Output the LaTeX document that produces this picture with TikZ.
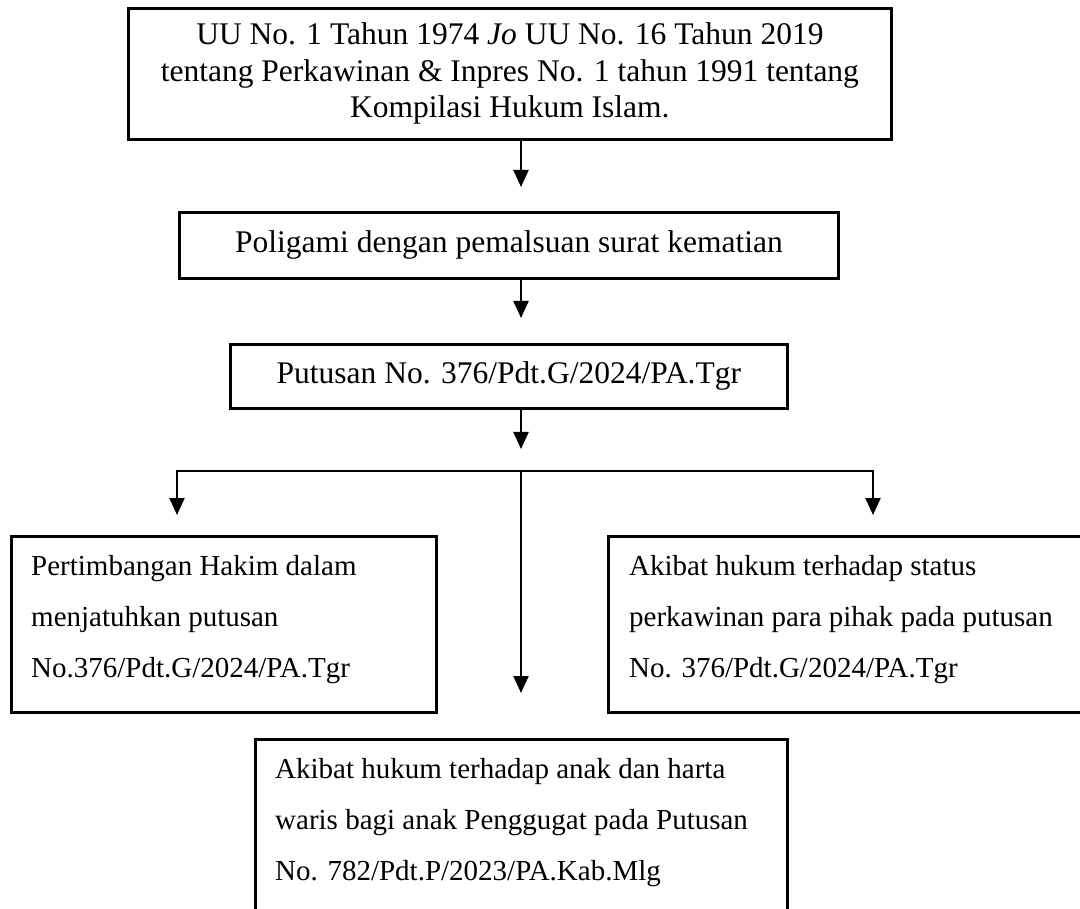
\documentclass[tikz,border=0pt]{standalone}
\usepackage{fontspec}
\setmainfont{Liberation Serif}
\usetikzlibrary{arrows.meta,calc}
\begin{document}
\begin{tikzpicture}[x=1pt,y=-1pt,
  boxframe/.style={draw, line width=2.8pt, inner sep=0pt, anchor=north west},
  topfont/.style={font=\fontsize{31.5}{36.5}\selectfont, align=center},
  lowtext/.style={font=\fontsize{29}{51}\selectfont, align=left, inner sep=0pt, anchor=north west},
  conn/.style={line width=2.2pt, line join=miter},
  arr/.style={conn, -{Triangle[width=15pt,length=17pt]}}]
\useasboundingbox (0,0) rectangle (1080,909);
% boxes
\node[boxframe, topfont, minimum width=763pt, minimum height=131pt] (b1) at (127,7)
  {UU No. 1 Tahun 1974 \textit{Jo} UU No. 16 Tahun 2019\\tentang Perkawinan \& Inpres No. 1 tahun 1991 tentang\\Kompilasi Hukum Islam.};
\node[boxframe, topfont, minimum width=659pt, minimum height=66pt] (b2) at (178,211)
  {Poligami dengan pemalsuan surat kematian};
\node[boxframe, topfont, minimum width=557pt, minimum height=64pt] (b3) at (229,343)
  {Putusan No. 376/Pdt.G/2024/PA.Tgr};
\node[boxframe, minimum width=425pt, minimum height=176pt] (bl) at (10,535) {};
\node[boxframe, minimum width=483pt, minimum height=176pt] (br) at (607,535) {};
\node[boxframe, minimum width=532pt, minimum height=185pt] (bb) at (254,738) {};
% texts of the lower boxes
\node[lowtext] (lt) at (31,553)
  {\rule{0pt}{22pt}Pertimbangan Hakim dalam\\menjatuhkan putusan\\No.376/Pdt.G/2024/PA.Tgr};
\node[lowtext] (rt) at (629,553)
  {\rule{0pt}{22pt}Akibat hukum terhadap status\\perkawinan para pihak pada putusan\\No. 376/Pdt.G/2024/PA.Tgr};
\node[lowtext] (bt) at (275,756)
  {\rule{0pt}{22pt}Akibat hukum terhadap anak dan harta\\waris bagi anak Penggugat pada Putusan\\No. 782/Pdt.P/2023/PA.Kab.Mlg};
% connector points
\coordinate (J) at (521,471);
\coordinate (JL) at (177,471);
\coordinate (JR) at (873,471);
\coordinate (t1) at (521,187);
\coordinate (t2) at (521,318);
\coordinate (t3) at (521,449);
\coordinate (tL) at (177,515);
\coordinate (tR) at (873,515);
\coordinate (tM) at (521,693);
% connectors
\draw[arr] (b1.south -| J) -- (t1);
\draw[arr] (b2.south -| J) -- (t2);
\draw[arr] (b3.south -| J) -- (t3);
\draw[arr] (J) -- (JL) -- (tL);
\draw[arr] (J) -- (JR) -- (tR);
\draw[arr] (J) -- (tM);
\end{tikzpicture}
\end{document}
